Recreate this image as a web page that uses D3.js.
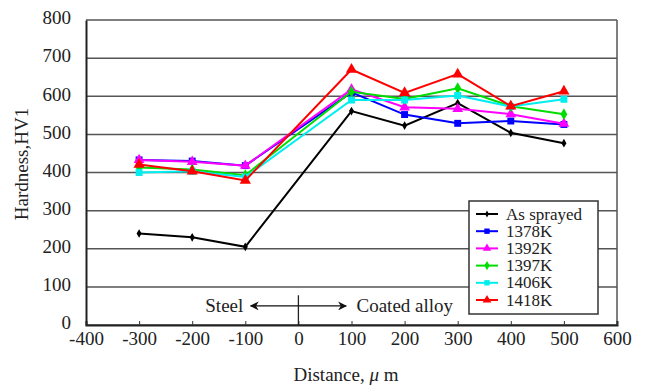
<!DOCTYPE html>
<html>
<head>
<meta charset="utf-8">
<script src="https://cdn.jsdelivr.net/npm/d3@7"></script>
<style>
  body { margin: 0; background: #fff; }
  text { font-family: "Liberation Serif", "Times New Roman", serif; fill: #222; }
</style>
</head>
<body>
<div id="chart-area"></div>
<script>
// data
const distances = [-300, -200, -100, 100, 200, 300, 400, 500]
const seriesNames = ["As sprayed", "1378K", "1392K", "1397K", "1406K", "1418K"]
const asSprayed = [240, 230, 205, 561, 523, 582, 504, 477]
const k1378 = [433, 430, 418, 610, 552, 529, 535, 526]
const k1392 = [433, 428, 418, 618, 571, 567, 553, 528]
const k1397 = [413, 408, 393, 612, 593, 621, 574, 553]
const k1406 = [400, 403, 388, 590, 590, 602, 573, 592]
const k1418 = [421, 403, 379, 670, 609, 658, 574, 613]
const xTicks = [-400, -300, -200, -100, 0, 100, 200, 300, 400, 500, 600]
const yTicks = [0, 100, 200, 300, 400, 500, 600, 700, 800]

const colors = ["#000000", "#0000ff", "#ff00ff", "#00dd00", "#00eeee", "#ff0000"]
const symbols = [d3.symbolDiamond, d3.symbolSquare, d3.symbolTriangle, d3.symbolDiamond, d3.symbolSquare, d3.symbolTriangle]
const symSizes = [22, 48, 50, 40, 48, 55]
const allValues = [asSprayed, k1378, k1392, k1397, k1406, k1418]

const W = 648, H = 387
const MARGIN = { LEFT: 86, RIGHT: 31, TOP: 20, BOTTOM: 62 }
const WIDTH = W - MARGIN.LEFT - MARGIN.RIGHT
const HEIGHT = H - MARGIN.TOP - MARGIN.BOTTOM

const svg = d3.select("#chart-area").append("svg")
  .attr("width", W)
  .attr("height", H)

const g = svg.append("g")
  .attr("transform", "translate(" + MARGIN.LEFT + ", " + MARGIN.TOP + ")")

const x = d3.scaleLinear().domain([-400, 600]).range([0, WIDTH])
const y = d3.scaleLinear().domain([0, 800]).range([HEIGHT, 0])

// gridlines
g.selectAll(".grid")
  .data(yTicks)
  .enter().append("line")
    .attr("x1", 0).attr("x2", WIDTH)
    .attr("y1", d => y(d)).attr("y2", d => y(d))
    .attr("stroke", "#555").attr("stroke-width", 1.5)

// right border
g.append("line")
  .attr("x1", WIDTH).attr("x2", WIDTH)
  .attr("y1", 0).attr("y2", HEIGHT)
  .attr("stroke", "#555").attr("stroke-width", 1.5)

// axes
const xAxis = g.append("g")
  .attr("transform", "translate(0, " + HEIGHT + ")")
  .call(d3.axisBottom(x).tickValues(xTicks).tickSize(-4).tickPadding(7).tickFormat(d => String(d)))
xAxis.select(".domain").attr("stroke", "#222").attr("stroke-width", 2)
xAxis.selectAll(".tick line").attr("stroke", "#333")
xAxis.selectAll("text").attr("font-size", "19px").attr("fill", "#222")

const yAxis = g.append("g")
  .call(d3.axisLeft(y).tickValues(yTicks).tickSize(0).tickPadding(15).tickFormat(d => String(d)))
yAxis.select(".domain").attr("stroke", "#222").attr("stroke-width", 2)
yAxis.selectAll("text").attr("font-size", "19px").attr("fill", "#222").attr("dy", "0.2em")

// axis titles
svg.append("text")
  .attr("x", 346).attr("y", 381)
  .attr("text-anchor", "middle")
  .attr("font-size", "19px")
  .html('Distance, <tspan font-style="italic">\u03bc</tspan> m')

svg.append("text")
  .attr("transform", "translate(28, " + 164 + ") rotate(-90)")
  .attr("text-anchor", "middle")
  .attr("font-size", "19px")
  .text("Hardness,HV1")

// interface marker and arrows
svg.append("defs").append("marker")
  .attr("id", "arr")
  .attr("viewBox", "0 0 10 10")
  .attr("refX", 9).attr("refY", 5)
  .attr("markerWidth", 9).attr("markerHeight", 9)
  .attr("markerUnits", "userSpaceOnUse")
  .attr("orient", "auto-start-reverse")
  .append("path").attr("d", "M0,0 L10,5 L0,10 L3,5 Z").attr("fill", "#111")

g.append("line")
  .attr("x1", x(0)).attr("x2", x(0))
  .attr("y1", y(78)).attr("y2", HEIGHT)
  .attr("stroke", "#222").attr("stroke-width", 1.3)

g.append("line")
  .attr("x1", x(-90)).attr("x2", x(90))
  .attr("y1", y(50)).attr("y2", y(50))
  .attr("stroke", "#111").attr("stroke-width", 1.3)
  .attr("marker-start", "url(#arr)")
  .attr("marker-end", "url(#arr)")

g.append("text")
  .attr("x", x(-100) - 2).attr("y", y(50) + 6)
  .attr("text-anchor", "end")
  .attr("font-size", "19px")
  .text("Steel")

g.append("text")
  .attr("x", x(100) + 5).attr("y", y(50) + 6)
  .attr("font-size", "19px")
  .text("Coated alloy")

// series
const line = d3.line()
  .x((d, i) => x(distances[i]))
  .y(d => y(d))

allValues.forEach(function(vals, s) {
  g.append("path")
    .datum(vals)
    .attr("d", line)
    .attr("fill", "none")
    .attr("stroke", colors[s])
    .attr("stroke-width", 2)

  g.selectAll(".pt" + s)
    .data(vals)
    .enter().append("path")
      .attr("transform", (d, i) => "translate(" + x(distances[i]) + "," + y(d) + ")")
      .attr("d", d3.symbol().type(symbols[s]).size(symSizes[s]))
      .attr("fill", colors[s])
})

// legend
const legend = svg.append("g").attr("transform", "translate(469, 201)")
legend.append("rect")
  .attr("width", 129).attr("height", 113)
  .attr("fill", "#fff").attr("stroke", "#333").attr("stroke-width", 1.5)

seriesNames.forEach(function(name, s) {
  const yy = 13 + s * 17.2
  legend.append("line")
    .attr("x1", 7).attr("x2", 29).attr("y1", yy).attr("y2", yy)
    .attr("stroke", colors[s]).attr("stroke-width", 2)
  legend.append("path")
    .attr("transform", "translate(18," + yy + ")")
    .attr("d", d3.symbol().type(symbols[s]).size(symSizes[s] * 0.6))
    .attr("fill", colors[s])
  legend.append("text")
    .attr("x", 37).attr("y", yy + 5.5)
    .attr("font-size", "17px")
    .text(name)
})
</script>
</body>
</html>
